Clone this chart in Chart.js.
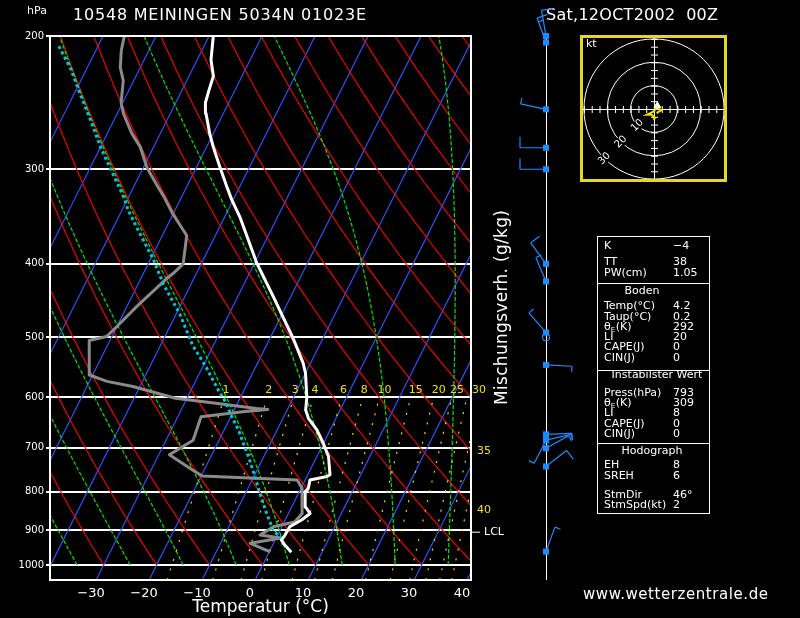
<!DOCTYPE html>
<html>
<head>
<meta charset="utf-8">
<script src="https://cdn.jsdelivr.net/npm/chart.js@4.4.0/dist/chart.umd.min.js"></script>
<style>
  html, body { margin: 0; padding: 0; background: #000; }
  #wrap { position: relative; width: 800px; height: 618px; overflow: hidden; }
  #skewt { position: absolute; left: 0; top: 0; }
  #hodo { position: absolute; left: 578px; top: 33px; }
</style>
</head>
<body>
<div id="wrap">
  <canvas id="skewt" width="800" height="618"></canvas>
  <canvas id="hodo" width="152" height="152"></canvas>
</div>
<script>
// --- sounding 10548 Meiningen, 12 Oct 2002 00Z ---
const tempP = [962, 941, 927, 913, 890, 872, 855, 838, 800, 792, 772, 764, 760, 719, 691, 663, 640, 624, 600, 558, 541, 502, 442, 399, 347, 329, 316, 298, 280, 269, 253, 245, 236, 226, 215, 200];
const tempT = [4.2, 2.3, 1.2, 1.4, 1.5, 3.1, 4.1, 2.6, 1.1, 1.4, 0.9, 3.8, 4.2, 2.2, 0.0, -2.5, -5.2, -6.5, -7.5, -10.0, -11.4, -15.6, -23.3, -29.6, -37.1, -40.3, -42.5, -45.6, -48.8, -50.7, -53.3, -54.4, -54.9, -55.4, -57.4, -59.2];

const dewP = [961, 936, 921, 913, 890, 877, 855, 792, 772, 763, 750, 715, 684, 637, 627, 623, 621, 610, 602, 581, 572, 561, 505, 499, 484, 455, 418, 412, 400, 367, 344, 328, 317, 299, 280, 269, 253, 245, 229, 220, 209, 200];
const dewT = [0.2, -4.4, 0.9, -3.3, -1.6, 2.0, 2.6, 0.2, -1.5, -19.8, -22.0, -28.0, -24.9, -25.6, -17.8, -13.7, -15.9, -25.3, -32.2, -41.3, -46.7, -50.6, -53.9, -51.0, -50.0, -48.1, -45.1, -44.4, -43.4, -45.4, -50.0, -53.0, -55.3, -59.2, -62.6, -65.4, -68.9, -70.3, -72.0, -73.8, -75.2, -76.0];

const parcelP = [941, 927, 918, 901, 855, 804, 764, 719, 691, 663, 637, 608, 587, 548, 512, 466, 425, 395, 365, 340, 326, 298, 280, 258, 238, 221, 205];
const parcelT = [2.0, 1.2, 0.6, -1.2, -4.1, -7.3, -9.8, -12.9, -15.1, -17.3, -19.8, -22.5, -24.9, -29.3, -34.0, -39.3, -45.3, -49.4, -54.4, -58.8, -61.0, -66.4, -70.1, -74.5, -79.0, -83.0, -87.8];

const windP   = [200, 204, 250, 281, 300, 400, 422, 493, 500, 544, 672, 684, 684, 701, 741, 960];
const windDir = [350, 340, 282, 270, 270, 324, 337, 319,   0,  93,  88,  77, 207,  61,  52,  20];
const windSpd = [ 10,  15,   5,  10,  10,  10,   5,   3,   0,   5,   5,   5,   3,   5,  10,   5];

const hodoU = [-0.3, 0.4, -1.0, -3.1, -0.3, 1.1, 3.2, 1.1];
const hodoV = [-4.6, -3.9, -2.5, -2.5, -1.1, 0.3, -0.4, -1.8];
const stormDir = 46, stormSpd = 2;
const lclP = 905;

// --- diagram grid ---
const isobars = [200, 300, 400, 500, 600, 700, 800, 900, 1000];
const tempTicks = [-30, -20, -10, 0, 10, 20, 30, 40];
const isothermT = [-90, -80, -70, -60, -50, -40, -30, -20, -10, 0, 10, 20, 30, 40];
const dryTheta = [-40, -30, -20, -10, 0, 10, 20, 30, 40, 50, 60, 70, 80, 90, 100, 110, 120, 130, 140];
const moistT1000 = [-35, -25, -15, -5, 5, 15, 25, 35];
const mixRatio = [1, 2, 3, 4, 6, 8, 10, 15, 20, 25, 30, 35, 40];
const mixLabelP = [600, 600, 600, 600, 600, 600, 600, 600, 600, 600, 600, 707, 846];

const tableLabels = ['K', 'TT', 'PW(cm)', 'Temp(°C)', 'Taup(°C)', 'θE(K)', 'LI', 'CAPE(J)', 'CIN(J)',
  'Press(hPa)', 'θE(K)', 'LI', 'CAPE(J)', 'CIN(J)', 'EH', 'SREH', 'StmDir', 'StmSpd(kt)'];
const tableValues = ['−4', '38', '1.05', '4.2', '0.2', '292', '20', '0', '0',
  '793', '309', '8', '0', '0', '8', '6', '46°', '2'];
const tableRowY = [246, 262, 273, 306, 317, 327, 337, 347, 358, 393, 403, 413, 424, 434, 465, 476, 495, 505];
const tableHeads = [['Boden', 642, 291], ['Instabilster Wert', 657, 375], ['Hodograph', 652, 451]];

const P_BOT = 1046.7, P_REF = 1080, SKEW = 31.0;
const X_MIN = -37.74, X_MAX = 41.70;
const FONT = "'DejaVu Sans', sans-serif";
Chart.defaults.font.family = FONT;

// skewed x coordinate
const sx = (T, p) => T + SKEW * Math.log(P_REF / p);

function mixTd(w, p) {
  const e = w * p / (622 + w);
  const l = Math.log(e / 6.112);
  return 243.5 * l / (17.67 - l);
}

function moistLapse(T, p) {
  const Tk = T + 273.15;
  const es = 6.112 * Math.exp(17.67 * T / (T + 243.5));
  const rs = 0.622 * es / (p - es);
  const Rd = 287.04, cp = 1005.7, Lv = 2.501e6;
  return (Rd * Tk + Lv * rs) / (p * (cp + Lv * Lv * rs * 0.622 / (Rd * Tk * Tk)));
}

function moistCurve(t0) {
  const pts = [];
  let T = t0;
  for (let p = 1000; p >= 200; p -= 2) {
    if (p % 10 === 0) pts.push({ x: sx(T, p), y: p });
    const k1 = moistLapse(T, p);
    const k2 = moistLapse(T - 2 * k1, p - 2);
    T -= (k1 + k2);
  }
  return pts;
}

const curveP = [];
for (let p = 1000; p >= 200; p -= 20) curveP.push(p);
const mixP = [P_BOT, 1000, 900, 800, 700, 600];

function line(data, color, width, dash, order) {
  return {
    data, showLine: true, borderColor: color, borderWidth: width, borderDash: dash,
    pointRadius: 0, tension: 0, fill: false, order, borderJoinStyle: 'round'
  };
}
const prof = (P, T) => P.map((p, i) => ({ x: sx(T[i], p), y: p }));

const datasets = [
  line(prof(tempP, tempT), '#ffffff', 3, [], 1),
  line(prof(parcelP, parcelT), '#00c8d8', 3, [3, 3], 2),
  line(prof(dewP, dewT), '#8a8a8a', 3, [], 3)
];
mixRatio.forEach(w => datasets.push(line(mixP.map(p => ({ x: sx(mixTd(w, p), p), y: p })), '#f0e000', 1.2, [2, 8], 4)));
moistT1000.forEach(t => datasets.push(line(moistCurve(t), '#00e600', 1.2, [4, 2], 5)));
dryTheta.forEach(th => datasets.push(line(curveP.map(p => ({
  x: sx((th + 273.15) * Math.pow(p / 1000, 0.2857) - 273.15, p), y: p })), '#ff0000', 1.1, [], 6)));
isothermT.forEach(t => datasets.push(line([P_BOT, 200].map(p => ({ x: sx(t, p), y: p })), '#3050ff', 1.2, [], 7)));

function fitText(ctx, str, x, y, w) {
  ctx.letterSpacing = '0px';
  const n = [...str].length;
  const m = ctx.measureText(str).width;
  ctx.letterSpacing = (n > 1 ? (w - m) / (n - 1) : 0) + 'px';
  ctx.fillText(str, x, y);
  ctx.letterSpacing = '0px';
}

function drawLabel(ctx, str, x, y) {
  if (str.startsWith('θE')) {
    ctx.fillText('θ', x, y);
    const w = ctx.measureText('θ').width;
    const f = ctx.font;
    ctx.font = '7px ' + FONT;
    ctx.fillText('E', x + w, y + 3);
    ctx.font = f;
    ctx.fillText(str.slice(2), x + w + 5, y);
  } else {
    ctx.fillText(str, x, y);
  }
}

function drawBarb(ctx, x, y, dir, spd) {
  ctx.strokeStyle = '#1a8cff';
  ctx.fillStyle = '#1a8cff';
  ctx.lineWidth = 1.2;
  if (spd === 0) {
    ctx.beginPath();
    ctx.arc(x, y, 3.5, 0, Math.PI * 2);
    ctx.stroke();
    return;
  }
  const L = 26, r = dir * Math.PI / 180;
  const ux = Math.sin(r), uy = -Math.cos(r);
  const bx = -uy, by = ux;
  const ex = x + ux * L, ey = y + uy * L;
  ctx.beginPath();
  ctx.moveTo(x, y);
  ctx.lineTo(ex, ey);
  let s = Math.round(spd / 5) * 5, pos = 0;
  while (s >= 10) {
    const px = ex - ux * pos, py = ey - uy * pos;
    ctx.moveTo(px, py);
    ctx.lineTo(px + bx * 11, py + by * 11);
    pos += 4; s -= 10;
  }
  if (s >= 5) {
    const px = ex - ux * pos, py = ey - uy * pos;
    ctx.moveTo(px, py);
    ctx.lineTo(px + bx * 6, py + by * 6);
  }
  ctx.stroke();
  ctx.fillRect(x - 3, y - 3, 6, 6);
}

const decor = {
  id: 'decor',
  afterDraw(chart) {
    const { ctx, chartArea: a, scales: { x, y } } = chart;
    ctx.save();
    ctx.strokeStyle = '#fff';
    ctx.lineWidth = 2;
    ctx.strokeRect(a.left, a.top, a.right - a.left, a.bottom - a.top);

    ctx.fillStyle = '#fff';
    ctx.textBaseline = 'middle';
    ctx.textAlign = 'left';
    ctx.font = '11px ' + FONT;
    fitText(ctx, 'hPa', 27, 11, 20);
    ctx.font = '16px ' + FONT;
    fitText(ctx, '10548 MEININGEN 5034N 01023E', 73, 16, 293);
    fitText(ctx, 'Sat,12OCT2002  00Z', 546, 16, 172);
    ctx.font = '15px ' + FONT;
    fitText(ctx, 'www.wetterzentrale.de', 583, 595, 185);

    // mixing ratio labels
    ctx.fillStyle = '#f0e000';
    ctx.font = '11px ' + FONT;
    mixRatio.forEach((w, i) => {
      const p = mixLabelP[i];
      let px, py;
      if (p === 600) {
        px = x.getPixelForValue(sx(mixTd(w, 600), 600)) - 2;
        py = y.getPixelForValue(587);
        if (px + 10 > a.right) px = a.right + 1;
      } else {
        px = a.right + 6;
        py = y.getPixelForValue(p);
      }
      ctx.fillText(String(w), px, py);
    });

    // LCL
    const ly = y.getPixelForValue(lclP);
    ctx.strokeStyle = '#fff';
    ctx.lineWidth = 1;
    ctx.beginPath();
    ctx.moveTo(a.right, ly);
    ctx.lineTo(a.right + 9, ly);
    ctx.stroke();
    ctx.fillStyle = '#fff';
    ctx.fillText('LCL', a.right + 13, ly);

    // vertical axis title
    ctx.save();
    ctx.translate(503, 308);
    ctx.rotate(-Math.PI / 2);
    ctx.font = '17px ' + FONT;
    fitText(ctx, 'Mischungsverh. (g/kg)', -97, 0, 195);
    ctx.restore();

    // wind profile
    const wx = 546;
    ctx.strokeStyle = '#fff';
    ctx.lineWidth = 1;
    ctx.beginPath();
    ctx.moveTo(wx + 0.5, y.getPixelForValue(200));
    ctx.lineTo(wx + 0.5, y.getPixelForValue(P_BOT));
    ctx.stroke();
    windP.forEach((p, i) => drawBarb(ctx, wx, y.getPixelForValue(p), windDir[i], windSpd[i]));

    // index table
    ctx.strokeStyle = '#fff';
    ctx.lineWidth = 1;
    ctx.strokeRect(597.5, 236.5, 112, 277);
    [283.5, 370.5, 443.5].forEach(yy => {
      ctx.beginPath();
      ctx.moveTo(597.5, yy);
      ctx.lineTo(709.5, yy);
      ctx.stroke();
    });
    ctx.fillStyle = '#fff';
    ctx.font = '11px ' + FONT;
    tableLabels.forEach((lab, i) => {
      drawLabel(ctx, lab, 604, tableRowY[i]);
      ctx.fillText(tableValues[i], 673, tableRowY[i]);
    });
    ctx.textAlign = 'center';
    tableHeads.forEach(h => ctx.fillText(h[0], h[1], h[2]));
    ctx.restore();
  }
};

new Chart(document.getElementById('skewt'), {
  type: 'scatter',
  data: { datasets },
  options: {
    responsive: false,
    animation: false,
    devicePixelRatio: 1,
    layout: { padding: { top: 36, right: 329, left: 0, bottom: 0 } },
    plugins: { legend: { display: false }, tooltip: { enabled: false } },
    scales: {
      x: {
        type: 'linear', min: X_MIN, max: X_MAX, bounds: 'data',
        afterBuildTicks: s => { s.ticks = tempTicks.map(v => ({ value: v })); },
        afterFit: s => { s.height = 38; },
        grid: { display: false, drawTicks: false },
        border: { display: true, color: '#fff', width: 2 },
        ticks: {
          color: '#fff', font: { size: 13 }, padding: 6, autoSkip: false, maxRotation: 0,
          callback: v => (v < 0 ? '\u2212' : '') + Math.abs(v)
        },
        title: { display: true, text: 'Temperatur (°C)', color: '#fff', font: { size: 17 }, padding: { top: 0, bottom: 0 } }
      },
      y: {
        type: 'logarithmic', reverse: true, min: 200, max: P_BOT, bounds: 'data',
        afterBuildTicks: s => { s.ticks = isobars.map(v => ({ value: v })); },
        afterFit: s => { s.width = 50; },
        grid: { color: '#fff', lineWidth: 2, tickLength: 4, tickColor: '#fff' },
        border: { display: true, color: '#fff', width: 2 },
        ticks: { color: '#fff', font: { size: 10 }, padding: 2, autoSkip: false, callback: v => String(v) }
      }
    }
  },
  plugins: [decor]
});

// --- hodograph ---
const hodoDecor = {
  id: 'hodoDecor',
  beforeDatasetsDraw(chart) {
    const { ctx, chartArea: a, scales: { x, y } } = chart;
    const cx = x.getPixelForValue(0), cy = y.getPixelForValue(0);
    ctx.save();
    ctx.beginPath();
    ctx.rect(a.left, a.top, a.right - a.left, a.bottom - a.top);
    ctx.clip();
    ctx.strokeStyle = '#fff';
    ctx.lineWidth = 1;
    [10, 20, 30].forEach(k => {
      const r = x.getPixelForValue(k) - cx;
      ctx.beginPath();
      ctx.arc(cx, cy, r, 0, Math.PI * 2);
      ctx.stroke();
    });
    ctx.beginPath();
    ctx.moveTo(a.left, cy + 0.5); ctx.lineTo(a.right, cy + 0.5);
    ctx.moveTo(cx + 0.5, a.top); ctx.lineTo(cx + 0.5, a.bottom);
    for (let k = -30; k <= 30; k += 10 / 3) {
      if (Math.abs(k) < 0.1) continue;
      const px = x.getPixelForValue(k), py = y.getPixelForValue(k);
      ctx.moveTo(px + 0.5, cy - 3); ctx.lineTo(px + 0.5, cy + 4);
      ctx.moveTo(cx - 3, py + 0.5); ctx.lineTo(cx + 4, py + 0.5);
    }
    ctx.stroke();
    // ring labels
    ctx.font = '10px ' + FONT;
    ctx.textAlign = 'center';
    ctx.textBaseline = 'middle';
    [10, 20, 30].forEach(k => {
      const r = x.getPixelForValue(k) - cx;
      const lx = cx - r * 0.7071, ly = cy + r * 0.7071;
      ctx.save();
      ctx.translate(lx, ly);
      ctx.rotate(-Math.PI / 4);
      ctx.fillStyle = '#000';
      ctx.fillRect(-7, -5, 14, 10);
      ctx.fillStyle = '#fff';
      ctx.fillText(String(k), 0, 0);
      ctx.restore();
    });
    ctx.restore();
  },
  afterDraw(chart) {
    const { ctx } = chart;
    ctx.save();
    ctx.strokeStyle = '#e6d62a';
    ctx.lineWidth = 3;
    ctx.strokeRect(3.5, 3.5, 144, 144);
    ctx.fillStyle = '#fff';
    ctx.font = '11px ' + FONT;
    ctx.textBaseline = 'middle';
    ctx.fillText('kt', 8, 11);
    ctx.restore();
  }
};

const sr = stormDir * Math.PI / 180;
new Chart(document.getElementById('hodo'), {
  type: 'scatter',
  data: {
    datasets: [
      {
        data: [{ x: stormSpd * Math.sin(sr), y: stormSpd * Math.cos(sr) }],
        pointStyle: 'triangle', pointRadius: 4, backgroundColor: '#fff', borderColor: '#fff', borderWidth: 1
      },
      {
        data: hodoU.map((u, i) => ({ x: u, y: hodoV[i] })),
        showLine: true, borderColor: '#f0e000', borderWidth: 2, pointRadius: 0, tension: 0
      }
    ]
  },
  options: {
    responsive: false,
    animation: false,
    devicePixelRatio: 1,
    layout: { padding: 4 },
    plugins: { legend: { display: false }, tooltip: { enabled: false } },
    scales: {
      x: { type: 'linear', display: false, min: -30.4, max: 30.4 },
      y: { type: 'linear', display: false, min: -30.4, max: 30.4 }
    }
  },
  plugins: [hodoDecor]
});
</script>
</body>
</html>
